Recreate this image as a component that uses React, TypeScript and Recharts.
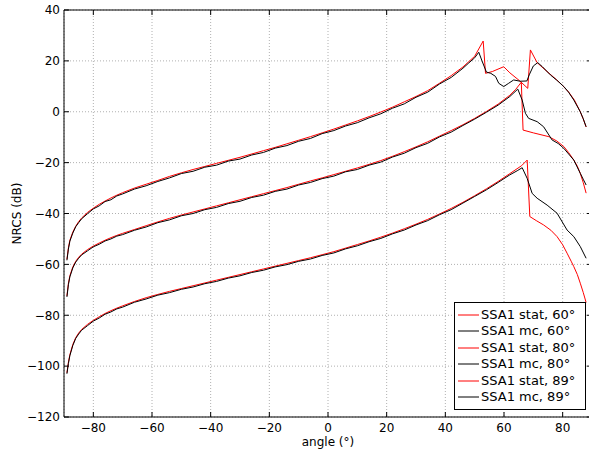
import React from 'react';
import { LineChart, Line, XAxis, YAxis, CartesianGrid, Legend, ReferenceLine } from 'recharts';

// ---------- data ----------
const xTicks = [-80, -60, -40, -20, 0, 20, 40, 60, 80];
const yTicks = [-120, -100, -80, -60, -40, -20, 0, 20, 40];

const baseAngles = [-89, -88.5, -88, -87, -86, -85, -84, -82, -80, -78, -76, -74, -72, -70, -66, -62, -58, -54, -50, -46, -42, -38, -34, -30, -26, -22, -18, -14, -10, -6, -2, 2, 6, 10, 14, 18, 22, 26, 30, 34, 38, 42, 46];

const stat60Base = [-58, -53.5, -50.5, -47.3, -45, -43.2, -41.8, -39.6, -37.9, -36.4, -35.1, -33.9, -32.8, -31.8, -30, -28.5, -27, -25.4, -24, -22.7, -21.5, -20.3, -19.1, -17.9, -16.6, -15.3, -14, -12.6, -11.2, -9.8, -8.3, -6.8, -5.2, -3.6, -1.9, -0.1, 1.8, 3.9, 6, 8.3, 11.2, 14.2, 17.6];
const mc60Base = [-58.4, -54.0, -50.9, -47.7, -45.2, -43.6, -42.1, -40.1, -38.2, -37.0, -35.3, -34.6, -33.1, -32.3, -30.4, -29.1, -27.4, -26.0, -24.3, -23.4, -21.8, -21.0, -19.4, -18.6, -17.0, -16.0, -14.3, -13.3, -11.6, -10.5, -8.6, -7.4, -5.6, -4.3, -2.4, -0.8, 1.4, 3.1, 5.7, 7.7, 10.9, 13.5, 17.1];
const stat80Base = [-72.4, -67.5, -64.5, -61, -58.8, -57.2, -56, -54.2, -52.8, -51.6, -50.5, -49.5, -48.6, -47.8, -46.3, -44.8, -43.3, -41.9, -40.6, -39.4, -38.2, -37, -35.8, -34.6, -33.4, -32.2, -31, -29.8, -28.5, -27.2, -26, -24.7, -23.4, -22.1, -20.7, -19.2, -17.5, -15.7, -13.8, -11.8, -9.6, -7.4, -5.1];
const mc80Base = [-72.8, -68.0, -64.9, -61.4, -59.1, -57.6, -56.3, -54.7, -53.1, -52.1, -50.8, -50.0, -48.9, -48.3, -46.6, -45.3, -43.6, -42.5, -40.9, -40.0, -38.5, -37.6, -36.1, -35.2, -33.7, -32.8, -31.3, -30.4, -28.8, -27.8, -26.3, -25.3, -23.6, -22.7, -21.0, -19.8, -17.8, -16.3, -14.1, -12.4, -9.9, -8.0, -5.4];
const stat89Base = [-102.6, -98.5, -95.5, -91.5, -88.8, -87, -85.6, -83.6, -82, -80.6, -79.3, -78.2, -77.2, -76.3, -74.6, -73.1, -71.8, -70.6, -69.5, -68.4, -67.3, -66.2, -65.1, -64, -62.9, -61.8, -60.7, -59.6, -58.5, -57.4, -56.2, -55, -53.6, -52.2, -50.8, -49.3, -47.7, -46, -44.2, -42.3, -40.2, -38, -35.6];
const mc89Base = [-103.0, -99.0, -95.9, -91.9, -89.1, -87.4, -85.9, -84.1, -82.3, -81.1, -79.6, -78.7, -77.5, -76.8, -74.9, -73.6, -72.1, -71.1, -69.8, -68.9, -67.6, -66.7, -65.4, -64.5, -63.2, -62.3, -61.0, -60.1, -58.8, -57.9, -56.5, -55.5, -53.9, -52.7, -51.1, -49.8, -48.0, -46.5, -44.5, -42.8, -40.5, -38.5, -35.9];

const stat60TailAngles = [50, 52.9, 53.7, 56, 59.9, 62, 65.4, 68.1, 69, 71.3, 74, 76, 78, 80, 82, 84, 86, 87, 88];
const stat60TailValues = [21.8, 27.8, 15.1, 15.8, 17.7, 15.3, 12.1, 9.2, 24.3, 19.3, 16.5, 14.5, 12.5, 10.3, 7.8, 4.6, 0, -2.8, -6];
const mc60TailAngles = [48, 50, 51.4, 52.5, 54, 55.5, 57.1, 58.2, 59.9, 61.6, 63.3, 65.5, 67.8, 68.6, 70, 71.5, 73, 75.8, 78, 80.4, 82, 83.8, 86, 87, 88];
const mc60TailValues = [19.2, 21.2, 23.4, 20, 15.6, 15.1, 13.9, 11.2, 9.9, 11.2, 12.5, 12, 12.1, 14.5, 18, 19.3, 17.8, 14.5, 12.4, 9.9, 7.7, 4.6, 0, -2.7, -5.9];
const stat80TailAngles = [50, 54, 58, 62, 64, 65.9, 66.5, 70, 75.3, 78, 80.4, 82, 83.8, 85, 86, 87, 88];
const stat80TailValues = [-2.6, 0.1, 3, 6.5, 8.8, 11.6, -7.2, -8.3, -9.8, -11.5, -13.7, -16, -19, -21.4, -24.2, -27.8, -32];
const mc80TailAngles = [50, 54, 58, 62, 64.7, 66.2, 67.3, 68.4, 71.3, 73.5, 76.4, 78.5, 80.4, 83.8, 86, 87, 88];
const mc80TailValues = [-2.9, -0.2, 2.6, 6.0, 8.9, 4.6, -0.6, -2.6, -3.9, -5.9, -11.1, -12.5, -14.4, -19, -24.2, -26.5, -28.8];
const stat89TailAngles = [50, 54, 58, 62, 66, 67.9, 68.8, 71, 73.5, 76, 78.1, 80, 81.5, 83, 83.8, 85, 86, 87, 88];
const stat89TailValues = [-33, -30.3, -27.4, -24.3, -21.2, -19, -41.2, -42.8, -44.5, -46.6, -49.1, -52.3, -55.6, -59, -60.9, -64, -67.4, -71, -75];
const mc89TailAngles = [50, 54, 58, 62, 64.5, 66.2, 67.9, 69.6, 71.3, 74.7, 78.1, 81.5, 83.8, 86, 88];
const mc89TailValues = [-33.3, -30.7, -27.8, -24.8, -23.2, -22, -26.2, -32.1, -34, -36.7, -39.9, -46.5, -49.1, -53, -57.6];

const seriesNames = ['SSA1 stat, 60°', 'SSA1 mc, 60°', 'SSA1 stat, 80°', 'SSA1 mc, 80°', 'SSA1 stat, 89°', 'SSA1 mc, 89°'];
const seriesColors = ['#ff0000', '#000000', '#ff0000', '#000000', '#ff0000', '#000000'];

const build = (baseY: number[], tailX: number[], tailY: number[]) => [
  ...baseAngles.map((x, i) => ({ x, y: baseY[i] })),
  ...tailX.map((x, i) => ({ x, y: tailY[i] })),
];

const seriesData = [
  build(stat60Base, stat60TailAngles, stat60TailValues),
  build(mc60Base, mc60TailAngles, mc60TailValues),
  build(stat80Base, stat80TailAngles, stat80TailValues),
  build(mc80Base, mc80TailAngles, mc80TailValues),
  build(stat89Base, stat89TailAngles, stat89TailValues),
  build(mc89Base, mc89TailAngles, mc89TailValues),
];

// ---------- layout ----------
const CHART_W = 600;
const CHART_H = 454;
const Y_AXIS_W = 64;
const X_AXIS_H = 37;
const MARGIN = { top: 10, right: 8, bottom: 0, left: 0 };
const PLOT_TOP = MARGIN.top;
const PLOT_BOTTOM = CHART_H - MARGIN.bottom - X_AXIS_H;
const PLOT_LEFT = MARGIN.left + Y_AXIS_W;
const PLOT_RIGHT = CHART_W - MARGIN.right;
const FONT = '"DejaVu Sans", sans-serif';
const TICK_LEN = 5;

const fmt = (v: number) => (v < 0 ? '\u2212' + Math.abs(v) : String(v));

const XTick = (props: any) => {
  const { x, payload } = props;
  return (
    <g>
      <line x1={x} x2={x} y1={PLOT_BOTTOM} y2={PLOT_BOTTOM - TICK_LEN} stroke="#000" />
      <line x1={x} x2={x} y1={PLOT_TOP} y2={PLOT_TOP + TICK_LEN} stroke="#000" />
      <text x={x} y={PLOT_BOTTOM + 15} textAnchor="middle" fontSize={12} fontFamily={FONT} fill="#000">
        {fmt(payload.value)}
      </text>
    </g>
  );
};

const YTick = (props: any) => {
  const { y, payload } = props;
  return (
    <g>
      <line x1={PLOT_LEFT} x2={PLOT_LEFT + TICK_LEN} y1={y} y2={y} stroke="#000" />
      <line x1={PLOT_RIGHT} x2={PLOT_RIGHT - TICK_LEN} y1={y} y2={y} stroke="#000" />
      <text x={PLOT_LEFT - 4} y={y + 4.3} textAnchor="end" fontSize={12} fontFamily={FONT} fill="#000">
        {fmt(payload.value)}
      </text>
    </g>
  );
};

const LegendBox = (props: any) => {
  const items = [...(props.payload || [])].sort(
    (a: any, b: any) => seriesNames.indexOf(a.value) - seriesNames.indexOf(b.value)
  );
  return (
    <div
      style={{
        border: '1px solid #000',
        background: '#fff',
        boxSizing: 'border-box',
        width: 132,
        padding: '3.5px 0 3.5px 3px',
        fontFamily: FONT,
        fontSize: 13,
        color: '#000',
      }}
    >
      {items.map((e: any, i: number) => (
        <div key={i} style={{ display: 'flex', alignItems: 'center', height: 16.5, whiteSpace: 'nowrap' }}>
          <svg width={21} height={4} style={{ display: 'block' }}>
            <line x1={0} x2={21} y1={2} y2={2} stroke={e.color} strokeWidth={1} />
          </svg>
          <span style={{ marginLeft: 2, lineHeight: '16.5px' }}>{e.value}</span>
        </div>
      ))}
    </div>
  );
};

export default function App() {
  return (
    <div style={{ position: 'fixed', left: 0, top: 0, width: 589, height: 454, overflow: 'hidden', background: '#fff' }}>
      <LineChart width={CHART_W} height={CHART_H} margin={MARGIN}>
        <CartesianGrid stroke="#b0b0b0" strokeDasharray="1 2" />
        <XAxis
          dataKey="x"
          type="number"
          domain={[-90, 90]}
          ticks={xTicks}
          interval={0}
          allowDataOverflow
          height={X_AXIS_H}
          tickLine={false}
          axisLine={{ stroke: '#000' }}
          tick={<XTick />}
          label={{
            content: (p: any) => {
              const vb = p.viewBox || {};
              return (
                <text x={vb.x + vb.width / 2} y={vb.y + 29} textAnchor="middle" fontSize={12} fontFamily={FONT} fill="#000">
                  angle (°)
                </text>
              );
            },
          }}
        />
        <YAxis
          type="number"
          domain={[-120, 40]}
          ticks={yTicks}
          interval={0}
          allowDataOverflow
          width={Y_AXIS_W}
          tickLine={false}
          axisLine={{ stroke: '#000' }}
          tick={<YTick />}
          label={{
            content: (p: any) => {
              const vb = p.viewBox || {};
              const cx = vb.x + 21;
              const cy = vb.y + vb.height / 2;
              return (
                <text x={cx} y={cy} transform={`rotate(-90 ${cx} ${cy})`} textAnchor="middle" fontSize={12} fontFamily={FONT} fill="#000">
                  NRCS (dB)
                </text>
              );
            },
          }}
        />
        <ReferenceLine y={40} stroke="#000" />
        <ReferenceLine x={90} stroke="#000" />
        {seriesData.map((d, i) => (
          <Line
            key={seriesNames[i]}
            data={d}
            dataKey="y"
            name={seriesNames[i]}
            stroke={seriesColors[i]}
            strokeWidth={1}
            dot={false}
            activeDot={false}
            type="linear"
            isAnimationActive={false}
          />
        ))}
        <Legend
          layout="vertical"
          align="center"
          verticalAlign="middle"
          content={<LegendBox />}
          wrapperStyle={{ left: 454, top: 302, width: 132 }}
        />
      </LineChart>
    </div>
  );
}
